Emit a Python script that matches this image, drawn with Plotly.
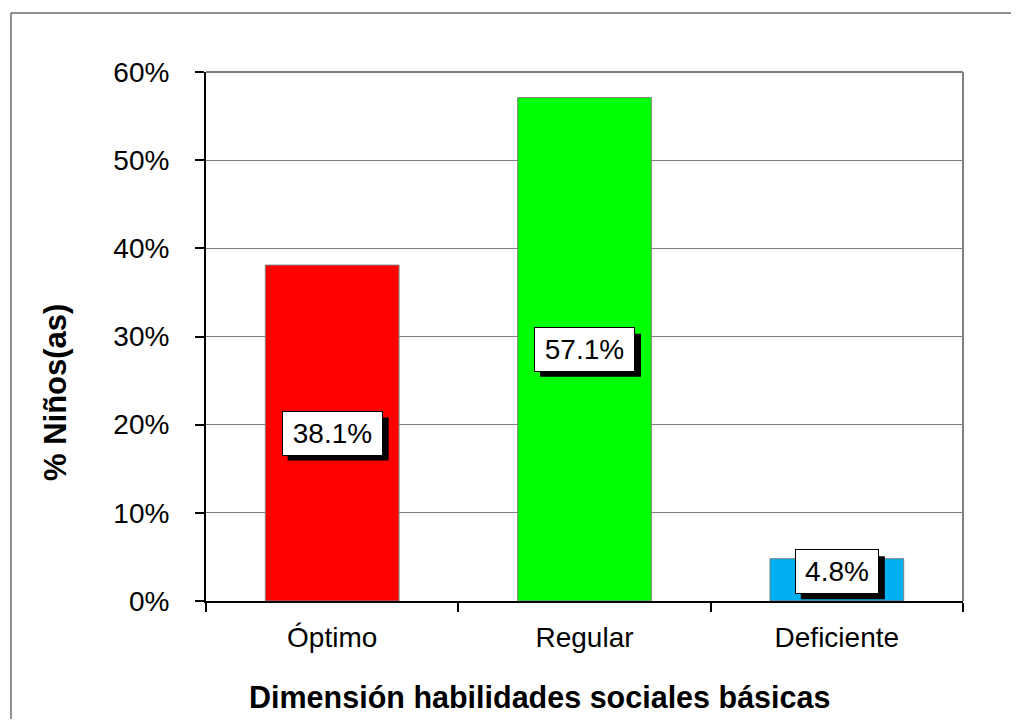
import plotly.graph_objects as go

categories = ["Óptimo", "Regular", "Deficiente"]
values = [38.1, 57.1, 4.8]
labels = ["38.1%", "57.1%", "4.8%"]
colors = ["#FF0000", "#00FF00", "#00B0F0"]
y_ticks = [0, 10, 20, 30, 40, 50, 60]
y_tick_text = ["0%", "10%", "20%", "30%", "40%", "50%", "60%"]

FONT = "Liberation Sans, Arial, sans-serif"
OFF = 8  # default page body margin
W, H = 1019 - 2 * OFF, 727 - 2 * OFF
L, R, T, B = 206 - OFF, 56 - OFF, 72 - OFF, 126 - OFF
pw, ph = W - L - R, H - T - B

def px_x(p):
    return (p - OFF - L) / pw

def px_y(p):
    return (H - B - (p - OFF)) / ph

fig = go.Figure()
fig.add_trace(go.Bar(
    x=categories, y=values, width=0.53,
    marker=dict(color=colors, line=dict(color="#808080", width=1)),
    hoverinfo="skip",
))

PAD = 6
LFS = 28
annotations = []
shapes = []
for c, v, t in zip(categories, values, labels):
    ys = 8 if v < 10 else 0
    w = 17 * len(t) + 2
    bw = w + 2 * PAD + 2
    bh = 43
    shapes.append(dict(type="rect", xref="x", yref="y", xsizemode="pixel", ysizemode="pixel",
                       xanchor=c, yanchor=v / 2,
                       x0=-bw / 2 + 6, x1=bw / 2 + 6,
                       y0=ys - bh / 2 - 6, y1=ys + bh / 2 - 6,
                       fillcolor="black", line=dict(width=0), layer="above"))
    annotations.append(dict(x=c, y=v / 2, text=t, showarrow=False, xref="x", yref="y",
                            yshift=ys, width=w,
                            font=dict(family=FONT, size=LFS, color="black"),
                            bgcolor="white", bordercolor="black", borderwidth=1, borderpad=PAD))

annotations.append(dict(text="<b>Dimensión habilidades sociales básicas</b>", showarrow=False,
                        xref="paper", yref="paper", x=px_x(539), y=px_y(697),
                        xanchor="center", yanchor="middle",
                        font=dict(family=FONT, size=30.5, color="black")))
annotations.append(dict(text="<b>% Niños(as)</b>", showarrow=False, textangle=-90,
                        xref="paper", yref="paper", x=px_x(55), y=px_y(393),
                        xanchor="center", yanchor="middle",
                        font=dict(family=FONT, size=31, color="black")))

bx0, bx1 = px_x(11), px_x(1040)
by0, by1 = px_y(740), px_y(13)
shapes += [
    dict(type="path", xref="paper", yref="paper",
         path=f"M {bx0},{by0} L {bx0},{by1} L {bx1},{by1}",
         line=dict(color="#222222", width=1), layer="below"),
    dict(type="line", xref="paper", yref="paper", x0=0, x1=1, y0=1, y1=1,
         line=dict(color="#808080", width=2)),
    dict(type="line", xref="paper", yref="paper", x0=1, x1=1, y0=0, y1=1,
         line=dict(color="#808080", width=2)),
]

fig.update_layout(
    width=W, height=H,
    margin=dict(l=L, r=R, t=T, b=B, pad=0),
    paper_bgcolor="white", plot_bgcolor="white",
    showlegend=False,
    annotations=annotations,
    shapes=shapes,
    font=dict(family=FONT, color="black"),
    xaxis=dict(
        type="category", tickson="boundaries", ticks="outside", ticklen=9, tickwidth=2,
        tickcolor="black", showline=True, linecolor="black", linewidth=2,
        tickfont=dict(family=FONT, size=28, color="black"), showgrid=False,
        ticklabelstandoff=10,
    ),
    yaxis=dict(
        range=[0, 60], tickvals=y_ticks, ticktext=y_tick_text,
        ticks="outside", ticklen=9, tickwidth=2, tickcolor="black",
        showline=True, linecolor="black", linewidth=2,
        showgrid=True, gridcolor="#808080", gridwidth=1,
        tickfont=dict(family=FONT, size=28, color="black"), zeroline=False,
        ticklabelstandoff=20,
    ),
)

fig.write_html("out.html")
